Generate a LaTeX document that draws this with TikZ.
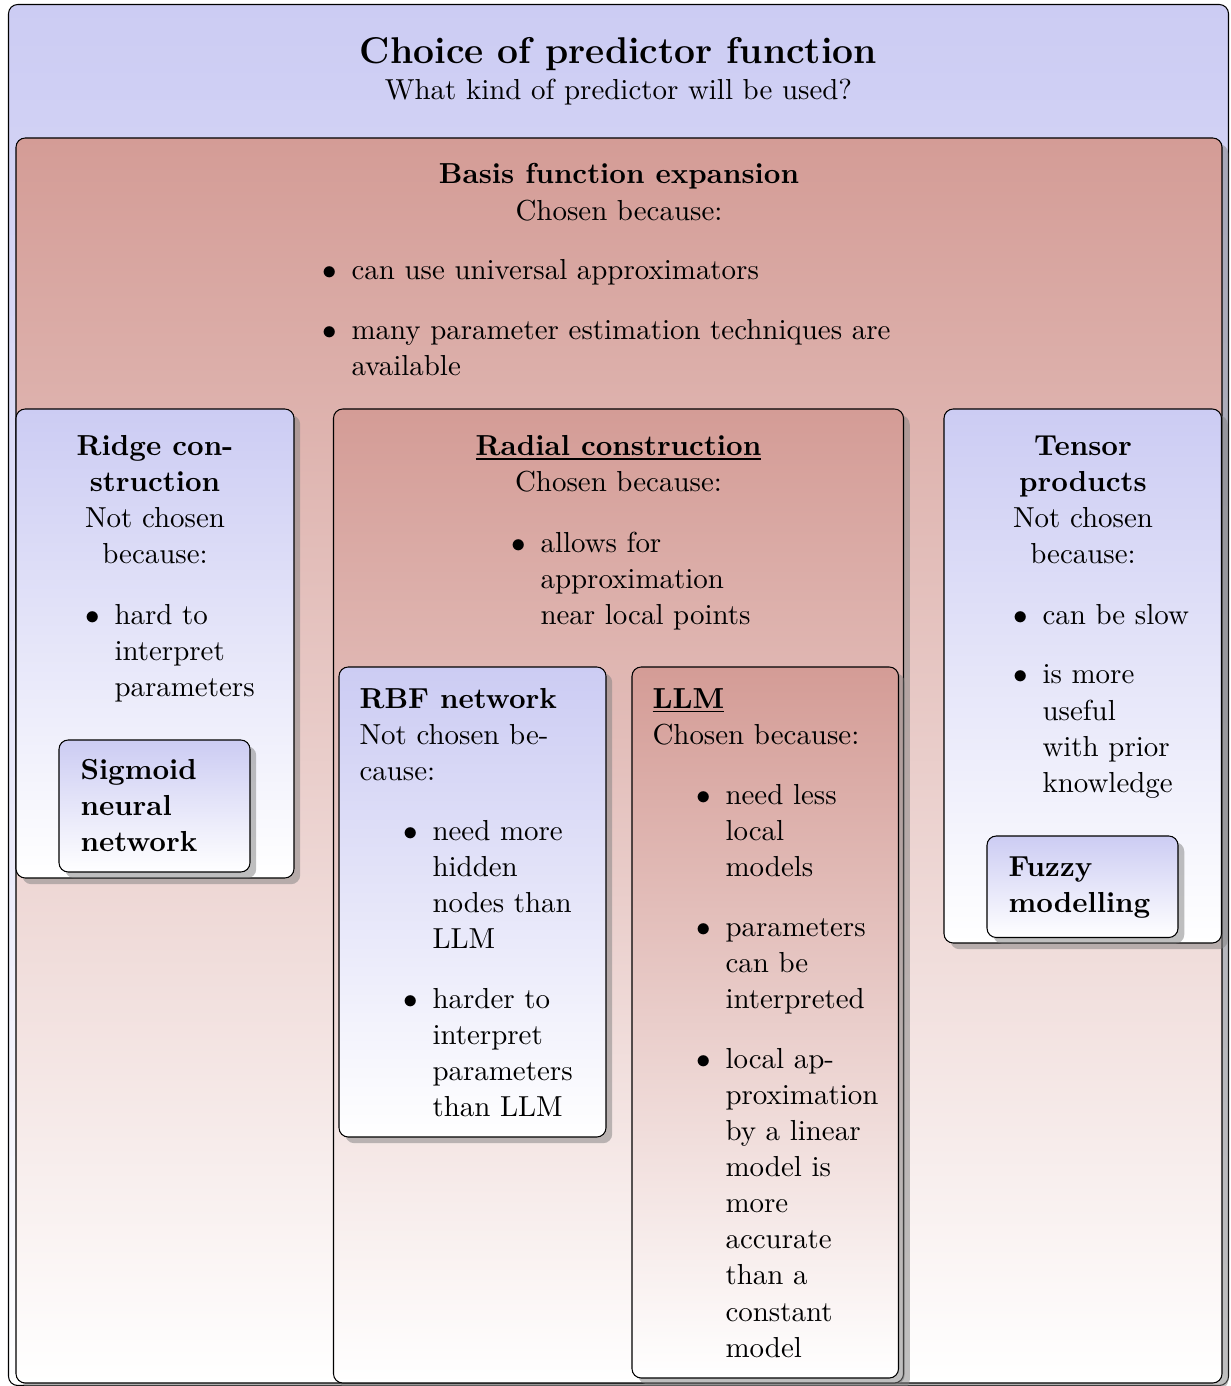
\documentclass[tikz,border=0pt,11pt]{standalone}
\usetikzlibrary{shadows}

\definecolor{bluetop}{RGB}{204,204,243}
\definecolor{redtop}{RGB}{212,156,150}

% one unit = one pixel of the finished page
\tikzset{
  px/.style={x=0.3785pt, y=-0.3785pt},
  panel/.style={draw=black, rounded corners=3.5pt},
  shadowed/.style={panel, drop shadow},
  bluepanel/.style={shadowed, top color=bluetop, bottom color=white},
  redpanel/.style={shadowed, top color=redtop, bottom color=white},
  ctxt/.style={inner sep=0pt, anchor=base},
  ltxt/.style={inner sep=0pt, anchor=base west},
}

\renewcommand{\arraystretch}{1.005}
% bullet hung to the left of the first line of an item
\newcommand{\bul}{\llap{$\bullet$\hspace{0.5em}}}
\newcommand{\cblock}[1]{\begin{tabular}[t]{@{}c@{}}#1\end{tabular}}
\newcommand{\lblock}[1]{\begin{tabular}[t]{@{}l@{}}#1\end{tabular}}

\begin{document}
\begin{tikzpicture}[px]
\useasboundingbox (0,0) rectangle (1230,1386);

% ---- boxes ----
\path[panel, top color=bluetop, bottom color=white] (8.5,4.5) rectangle (1228.5,1385.5);
\path[redpanel]  (16,138)    rectangle (1222,1383);
\path[bluepanel] (16,409)    rectangle (294,878);
\path[bluepanel] (59,740)    rectangle (250,872);
\path[redpanel]  (333.5,409) rectangle (903.5,1383);
\path[bluepanel] (339,667)   rectangle (606,1137);
\path[redpanel]  (632,667)   rectangle (898.5,1378);
\path[bluepanel] (944,409)   rectangle (1221.5,943);
\path[bluepanel] (987,836)   rectangle (1178,937.5);

% ---- top level ----
\node[ctxt, font=\fontsize{14.1}{17}\selectfont\bfseries] (title) at (618.5,64) {Choice of predictor function};
\node[ctxt] (subtitle) at (618.5,100) {What kind of predictor will be used?};

% ---- basis function expansion ----
\node[ctxt] (basishead) at (619,184)
  {\cblock{\textbf{Basis function expansion}\\ Chosen because:}};
\node[ltxt] (basisitems) at (351,280)
  {\lblock{\bul can use universal approximators\\[9pt]
           \bul many parameter estimation techniques are\\ available}};

% ---- ridge construction ----
\node[ctxt] (ridgehead) at (155,455)
  {\cblock{\textbf{Ridge con-}\\ \textbf{struction}\\ Not chosen\\ because:}};
\node[ltxt] (ridgeitems) at (114,624)
  {\lblock{\bul hard to\\ interpret\\ parameters}};
\node[ltxt, font=\bfseries] (sigmoid) at (80,779)
  {\lblock{Sigmoid\\ neural\\ network}};

% ---- radial construction ----
\node[ctxt] (radialhead) at (618.5,455)
  {\cblock{\underline{\textbf{Radial construction}}\\ Chosen because:}};
\node[ltxt] (radialitems) at (540,552)
  {\lblock{\bul allows for\\ approximation\\ near local points}};

% ---- RBF network ----
\node[ltxt] (rbfhead) at (359,708)
  {\lblock{\textbf{RBF network}\\ Not chosen be-\\ cause:}};
\node[ltxt] (rbfitems) at (432,840)
  {\lblock{\bul need more\\ hidden\\ nodes than\\ LLM\\[9pt]
           \bul harder to\\ interpret\\ parameters\\ than LLM}};

% ---- LLM ----
\node[ltxt] (llmhead) at (652,708)
  {\lblock{\underline{\textbf{LLM}}\\ Chosen because:}};
\node[ltxt] (llmitems) at (725,804)
  {\lblock{\bul need less\\ local\\ models\\[9pt]
           \bul parameters\\ can be\\ interpreted\\[9pt]
           \bul local ap-\\ proximation\\ by a linear\\ model is\\ more\\ accurate\\ than a\\ constant\\ model}};

% ---- tensor products ----
\node[ctxt] (tensorhead) at (1083,455)
  {\cblock{\textbf{Tensor}\\ \textbf{products}\\ Not chosen\\ because:}};
\node[ltxt] (tensoritems) at (1042,624)
  {\lblock{\bul can be slow\\[9pt]
           \bul is more\\ useful\\ with prior\\ knowledge}};
\node[ltxt, font=\bfseries] (fuzzy) at (1008,876)
  {\lblock{Fuzzy\\ modelling}};
\end{tikzpicture}
\end{document}
